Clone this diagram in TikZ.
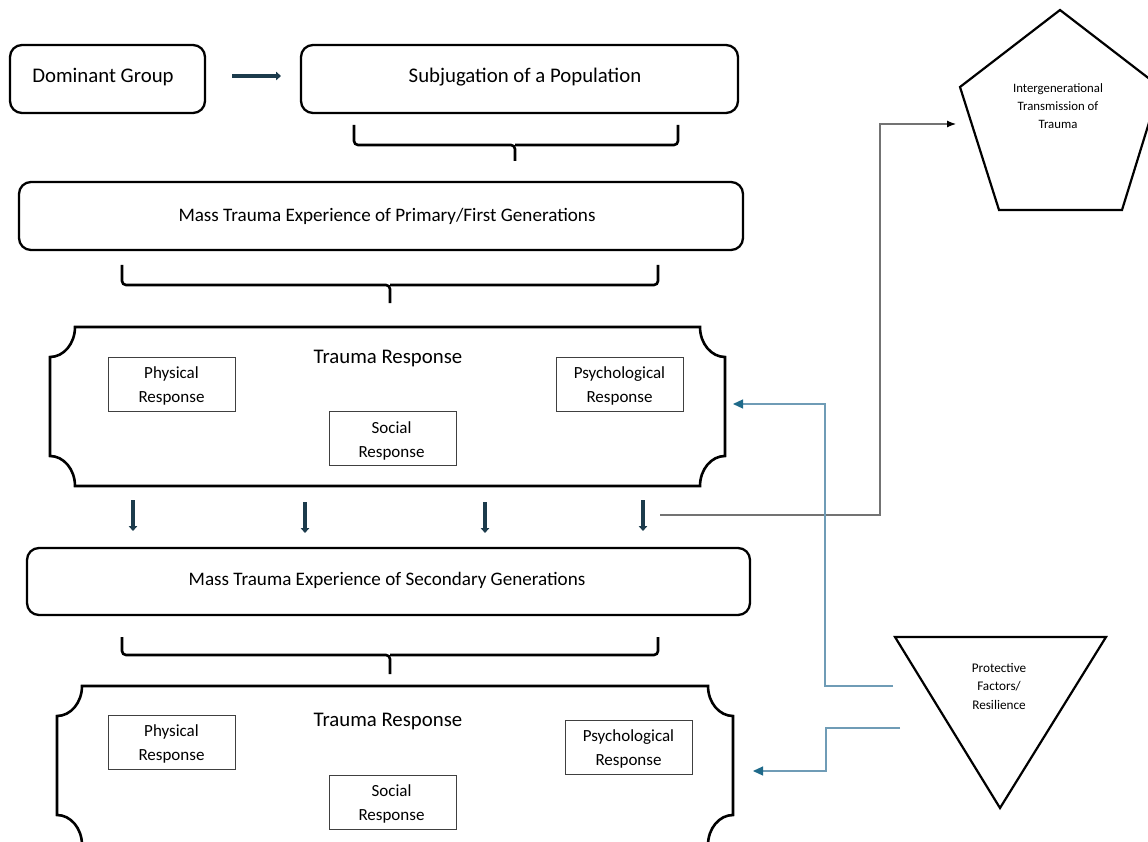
\documentclass[tikz,border=0pt]{standalone}
\usepackage{fontspec}
\setmainfont{Carlito}
\usetikzlibrary{arrows.meta}
\definecolor{darkteal}{HTML}{1C3B4C}
\definecolor{lineblue}{HTML}{6F9CB6}
\definecolor{tipblue}{HTML}{1F6A8A}
\tikzset{
  bigbox/.style={draw, line width=2.3pt, rounded corners=12pt, inner sep=0pt},
  smallbox/.style={draw=black!75, line width=0.9pt, minimum width=127pt, minimum height=54pt, inner sep=0pt, align=center},
  smalltxt/.style={align=center, font=\fontsize{17}{24}\selectfont},
  bigtxt/.style={font=\fontsize{20.8}{25}\selectfont},
  midtxt/.style={font=\fontsize{19.1}{23}\selectfont},
  shapetxt/.style={align=center, font=\fontsize{12.8}{18}\selectfont},
  bracepath/.style={line width=2.6pt, rounded corners=4pt},
  plaque/.style={line width=2.6pt},
  downarr/.style={draw=darkteal, line width=3.2pt, -{Triangle[length=5pt,width=8.5pt]}},
  greyline/.style={draw=black!55, line width=1.2pt},
  blueline/.style={draw=lineblue, line width=1.2pt},
}
\begin{document}
\begin{tikzpicture}[x=1pt,y=-1pt]
\useasboundingbox (0,0) rectangle (1148,842);
\clip (0,0) rectangle (1148,842);
% top row
\node[bigbox, minimum width=195pt, minimum height=68pt] (dom) at (107.5,79) {};
\node[bigtxt] (domt) at (103,77.5) {Dominant Group};
\node[bigbox, minimum width=437pt, minimum height=68pt] (sub) at (519.5,79) {};
\node[bigtxt] (subt) at (525,77.5) {Subjugation of a Population};
\coordinate (a1) at (232,76);
\coordinate (a2) at (281,76);
\draw[downarr] (a1) -- (a2);
% brace 1
\draw[bracepath] (354,125) -- (354,145) -- (515,145) -- (515,161);
\draw[bracepath] (515,145) -- (678,145) -- (678,125);
% primary
\node[bigbox, minimum width=724pt, minimum height=68pt] (prim) at (381,216) {};
\node[midtxt] (primt) at (387,216.5) {Mass Trauma Experience of Primary/First Generations};
% brace 2
\draw[bracepath] (122,265) -- (122,285) -- (390,285) -- (390,303);
\draw[bracepath] (390,285) -- (658,285) -- (658,265);
% plaque 1
\draw[plaque] (75,327) -- (700,327) .. controls (700,343.5) and (711.2,357) .. (725,357)
  -- (725,456) .. controls (711.2,456) and (700,469.5) .. (700,486)
  -- (75,486) .. controls (75,469.5) and (63.8,456) .. (50,456)
  -- (50,357) .. controls (63.8,357) and (75,343.5) .. (75,327) -- cycle;
\node[bigtxt] (tr1) at (388,359) {Trauma Response};
\node[smallbox] (phy1) at (171.5,384) {};
\node[smalltxt] (phy1t) at (171.5,386) {Physical\\Response};
\node[smallbox] (psy1) at (619.5,384) {};
\node[smalltxt] (psy1t) at (619.5,386) {Psychological\\Response};
\node[smallbox] (soc1) at (392.5,438.5) {};
\node[smalltxt] (soc1t) at (391.5,440.5) {Social\\Response};
% down arrows
\draw[downarr] (133,500) -- (133,531);
\draw[downarr] (305,502) -- (305,533);
\draw[downarr] (485,502) -- (485,533);
\draw[downarr] (643,500) -- (643,531);
% secondary
\node[bigbox, minimum width=723pt, minimum height=67pt] (sec) at (388.5,581.5) {};
\node[midtxt] (sect) at (387,580.5) {Mass Trauma Experience of Secondary Generations};
% brace 3
\draw[bracepath] (122,637) -- (122,655) -- (390,655) -- (390,674);
\draw[bracepath] (390,655) -- (658,655) -- (658,637);
% plaque 2
\draw[plaque] (82,686) -- (708,686) .. controls (708,702.5) and (719.2,716) .. (733,716)
  -- (733,815) .. controls (719.2,815) and (708,828.5) .. (708,845)
  -- (82,845) .. controls (82,828.5) and (70.8,815) .. (57,815)
  -- (57,716) .. controls (70.8,716) and (82,702.5) .. (82,686) -- cycle;
\node[bigtxt] (tr2) at (388,721) {Trauma Response};
\node[smallbox] (phy2) at (171.5,742.5) {};
\node[smalltxt] (phy2t) at (171.5,744) {Physical\\Response};
\node[smallbox] (psy2) at (628.5,747.5) {};
\node[smalltxt] (psy2t) at (628.5,749) {Psychological\\Response};
\node[smallbox] (soc2) at (392.5,802.5) {};
\node[smalltxt] (soc2t) at (391.5,804) {Social\\Response};
% pentagon
\draw[line width=2.2pt, line join=miter] (1060,10) -- (1160,87) -- (1122,210) -- (999,210) -- (960,87) -- cycle;
\node[shapetxt] (pent) at (1058,106.5) {Intergenerational\\Transmission of\\Trauma};
% triangle
\draw[line width=2.2pt, line join=miter] (895,637) -- (1106,637) -- (1000,808) -- cycle;
\node[shapetxt, font=\fontsize{13.2}{18.5}\selectfont] (tri) at (999,686) {Protective\\Factors/\\Resilience};
% grey connector
\coordinate (g0) at (660,515);
\coordinate (g1) at (956,124);
\draw[greyline, -{Latex[length=9pt,width=7pt,color=black]}] (g0) -- (880,515) -- (880,124) -- (g1);
% blue connectors
\coordinate (b0) at (893,686);
\coordinate (b1) at (733,404);
\draw[blueline, -{Triangle[length=10pt,width=9pt,color=tipblue]}] (b0) -- (825,686) -- (825,404) -- (b1);
\coordinate (c0) at (900,728);
\coordinate (c1) at (753,771);
\draw[blueline, -{Triangle[length=10pt,width=9pt,color=tipblue]}] (c0) -- (826,728) -- (826,771) -- (c1);
\end{tikzpicture}
\end{document}
